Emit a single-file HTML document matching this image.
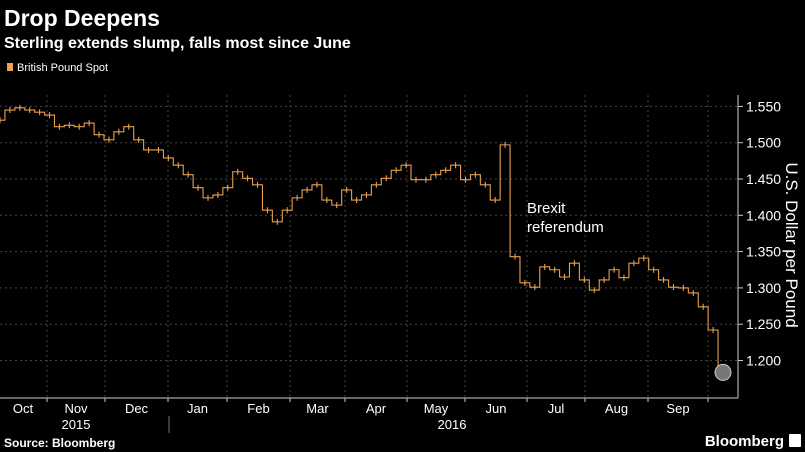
<!DOCTYPE html>
<html><head><meta charset="utf-8"><style>
html,body{margin:0;padding:0;background:#000;width:805px;height:452px;overflow:hidden}
svg{display:block}
text{font-family:"Liberation Sans",sans-serif;fill:#fff}
</style></head><body>
<svg width="805" height="452" xmlns="http://www.w3.org/2000/svg">
<text x="4" y="26" font-size="23" font-weight="bold">Drop Deepens</text>
<text x="4" y="48" font-size="16" font-weight="bold">Sterling extends slump, falls most since June</text>
<rect x="7" y="63" width="6" height="8" fill="#f0a050"/>
<text x="17" y="71" font-size="11">British Pound Spot</text>
<g id="grid"></g>
<g id="axes"></g>
<path id="series" fill="none" stroke="#e8a050" stroke-width="1.1"/>
<circle id="lastpt" r="8" fill="#777" stroke="#ccc" stroke-width="1"/>
<text x="527" y="213" font-size="15">Brexit</text>
<text x="527" y="232" font-size="15">referendum</text>
<text transform="translate(786,245) rotate(90)" text-anchor="middle" font-size="17">U.S. Dollar per Pound</text>
<text x="4" y="447" font-size="12" font-weight="bold">Source: Bloomberg</text>
<text x="784" y="446" font-size="15" font-weight="bold" text-anchor="end">Bloomberg</text>
<rect x="789" y="434" width="12" height="13" fill="#fff" rx="1"/>
</svg>
<script>
const prices=[1.531,1.545,1.548,1.545,1.542,1.538,1.522,1.524,1.522,1.527,1.511,1.504,1.515,1.522,1.504,1.490,1.490,1.479,1.469,1.456,1.438,1.424,1.428,1.438,1.460,1.451,1.442,1.407,1.391,1.407,1.424,1.435,1.442,1.421,1.414,1.435,1.421,1.428,1.442,1.451,1.462,1.469,1.449,1.449,1.456,1.462,1.469,1.449,1.456,1.442,1.421,1.497,1.343,1.307,1.301,1.329,1.325,1.315,1.334,1.311,1.297,1.311,1.325,1.314,1.334,1.341,1.325,1.311,1.301,1.300,1.293,1.274,1.242,1.185];
const yTicks=[1.2,1.25,1.3,1.35,1.4,1.45,1.5,1.55];
const months=["Oct","Nov","Dec","Jan","Feb","Mar","Apr","May","Jun","Jul","Aug","Sep"];
const monthStarts=[-15,47,105,168,227,290,345,407,465,527,585,648,708];
const NS="http://www.w3.org/2000/svg";
const X0=0,X1=723,AX=738,TOP=95,BOT=398;
const xs=i=>X0+i*(X1-X0)/(prices.length-1);
const ys=v=>142.7-(v-1.5)*726;
function mk(tag,attrs,parent,txt){const e=document.createElementNS(NS,tag);for(const k in attrs)e.setAttribute(k,attrs[k]);if(txt!==undefined)e.textContent=txt;parent.appendChild(e);return e;}
const grid=document.getElementById('grid'),axes=document.getElementById('axes');
yTicks.forEach(v=>{
 const y=ys(v);
 const l=mk('line',{x1:0,x2:AX,y1:y,y2:y,stroke:'#444','stroke-dasharray':'2,3','stroke-width':1},grid);
 
 
 const t=mk('line',{x1:AX,x2:AX+5,y1:y,y2:y,stroke:'#ccc'},axes);
 
 
 const lb=mk('text',{x:AX+8,y:y+5,'font-size':14},axes,v.toFixed(3));
 
 
});
monthStarts.slice(1).forEach(x=>{
 const l=mk('line',{x1:x,x2:x,y1:TOP,y2:BOT,stroke:'#444','stroke-dasharray':'2,3'},grid);
 
 
 const t=mk('line',{x1:x,x2:x,y1:BOT,y2:BOT+4,stroke:'#ccc'},axes);
 
 
});
months.forEach((m,i)=>{
 const x=(Math.max(monthStarts[i],0)+monthStarts[i+1])/2;
 const t=mk('text',{x:i===0?23:x,y:413,'font-size':13,'text-anchor':'middle'},axes,m);
 
 
});
const y1=mk('text',{x:76,y:429,'font-size':13,'text-anchor':'middle'},axes,"2015");


const y2=mk('text',{x:452,y:429,'font-size':13,'text-anchor':'middle'},axes,"2016");


const sep=mk('line',{x1:169,x2:169,y1:416,y2:433,stroke:'#777'},axes);


const ax=mk('line',{x1:0,x2:AX,y1:BOT,y2:BOT,stroke:'#ccc'},axes);


const ay=mk('line',{x1:AX,x2:AX,y1:TOP,y2:BOT,stroke:'#ccc'},axes);


let d='';
prices.forEach((v,i)=>{
 const x=xs(i),y=ys(v);
 if(i===0)d+=`M${x},${y}`;
 else{const xm=(xs(i-1)+x)/2;d+=`H${xm}V${y}H${x}`;}
 d+=`M${x},${y-3}V${y+3}M${x},${y}`;
});
document.getElementById('series').setAttribute('d',d);
const lp=document.getElementById('lastpt');
lp.setAttribute('cx',xs(prices.length-1));
lp.setAttribute('cy',ys(prices[prices.length-1])+1);
</script>
</body></html>
